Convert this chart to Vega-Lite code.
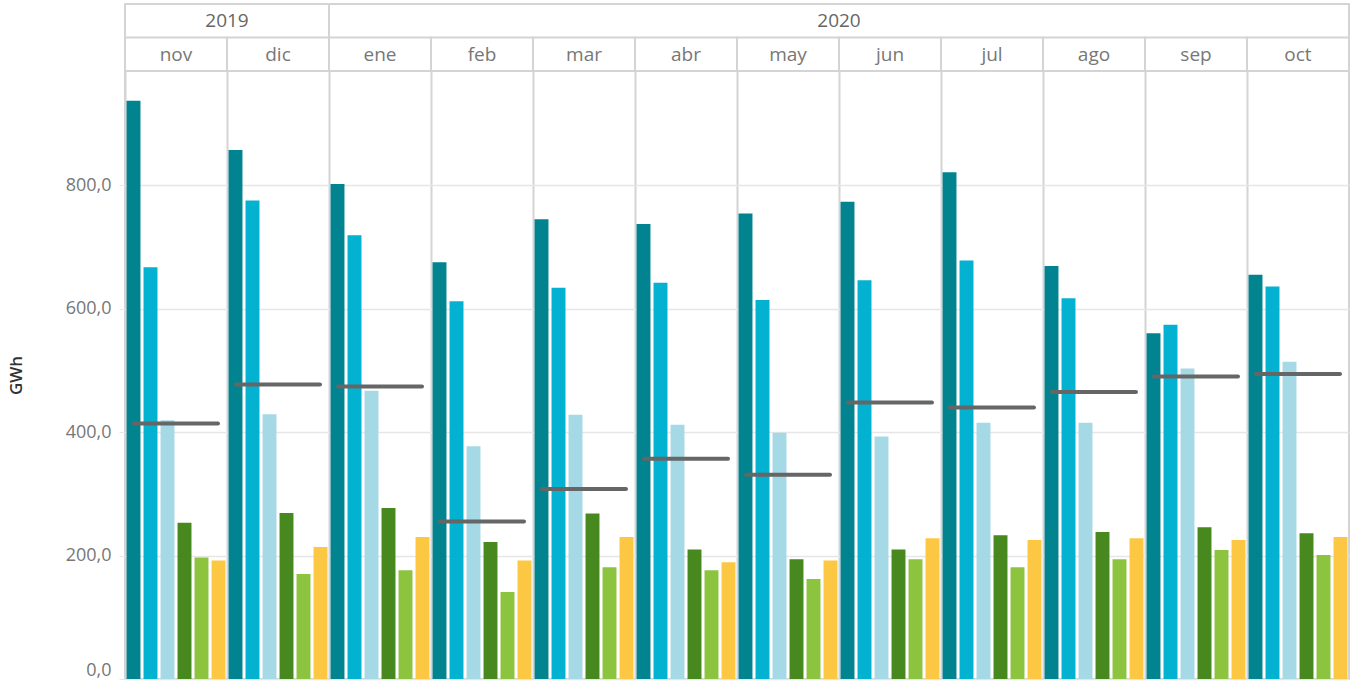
{
  "$schema": "https://vega.github.io/schema/vega-lite/v6.json",
  "padding": {"left": 6, "top": 2, "right": 7, "bottom": 0},
  "background": "white",
  "spacing": 0,
  "bounds": "flush",
  "config": {
    "font": "Open Sans",
    "view": {"stroke": "#d4d4d4", "strokeWidth": 2}
  },
  "datasets": {
    "hdr": [
      {"m": "nov", "level": "month", "label": "nov"},
      {"m": "dic", "level": "month", "label": "dic"},
      {"m": "ene", "level": "month", "label": "ene"},
      {"m": "feb", "level": "month", "label": "feb"},
      {"m": "mar", "level": "month", "label": "mar"},
      {"m": "abr", "level": "month", "label": "abr"},
      {"m": "may", "level": "month", "label": "may"},
      {"m": "jun", "level": "month", "label": "jun"},
      {"m": "jul", "level": "month", "label": "jul"},
      {"m": "ago", "level": "month", "label": "ago"},
      {"m": "sep", "level": "month", "label": "sep"},
      {"m": "oct", "level": "month", "label": "oct"},
      {"m": "dic", "level": "year", "label": "2019"},
      {"m": "jun", "level": "year", "label": "2020"},
      {"m": "ene", "level": "split", "label": ""}
    ],
    "gen": [
      {"year": "2019", "month": "nov", "serie": "Serie 1", "gwh": 937},
      {"year": "2019", "month": "nov", "serie": "Serie 2", "gwh": 667},
      {"year": "2019", "month": "nov", "serie": "Serie 3", "gwh": 419},
      {"year": "2019", "month": "nov", "serie": "Serie 4", "gwh": 253},
      {"year": "2019", "month": "nov", "serie": "Serie 5", "gwh": 197},
      {"year": "2019", "month": "nov", "serie": "Serie 6", "gwh": 192},
      {"year": "2019", "month": "dic", "serie": "Serie 1", "gwh": 857},
      {"year": "2019", "month": "dic", "serie": "Serie 2", "gwh": 775},
      {"year": "2019", "month": "dic", "serie": "Serie 3", "gwh": 429},
      {"year": "2019", "month": "dic", "serie": "Serie 4", "gwh": 269},
      {"year": "2019", "month": "dic", "serie": "Serie 5", "gwh": 170},
      {"year": "2019", "month": "dic", "serie": "Serie 6", "gwh": 214},
      {"year": "2020", "month": "ene", "serie": "Serie 1", "gwh": 802},
      {"year": "2020", "month": "ene", "serie": "Serie 2", "gwh": 719},
      {"year": "2020", "month": "ene", "serie": "Serie 3", "gwh": 467},
      {"year": "2020", "month": "ene", "serie": "Serie 4", "gwh": 277},
      {"year": "2020", "month": "ene", "serie": "Serie 5", "gwh": 176},
      {"year": "2020", "month": "ene", "serie": "Serie 6", "gwh": 230},
      {"year": "2020", "month": "feb", "serie": "Serie 1", "gwh": 675},
      {"year": "2020", "month": "feb", "serie": "Serie 2", "gwh": 612},
      {"year": "2020", "month": "feb", "serie": "Serie 3", "gwh": 377},
      {"year": "2020", "month": "feb", "serie": "Serie 4", "gwh": 222},
      {"year": "2020", "month": "feb", "serie": "Serie 5", "gwh": 141},
      {"year": "2020", "month": "feb", "serie": "Serie 6", "gwh": 192},
      {"year": "2020", "month": "mar", "serie": "Serie 1", "gwh": 745},
      {"year": "2020", "month": "mar", "serie": "Serie 2", "gwh": 634},
      {"year": "2020", "month": "mar", "serie": "Serie 3", "gwh": 428},
      {"year": "2020", "month": "mar", "serie": "Serie 4", "gwh": 268},
      {"year": "2020", "month": "mar", "serie": "Serie 5", "gwh": 181},
      {"year": "2020", "month": "mar", "serie": "Serie 6", "gwh": 230},
      {"year": "2020", "month": "abr", "serie": "Serie 1", "gwh": 737},
      {"year": "2020", "month": "abr", "serie": "Serie 2", "gwh": 642},
      {"year": "2020", "month": "abr", "serie": "Serie 3", "gwh": 412},
      {"year": "2020", "month": "abr", "serie": "Serie 4", "gwh": 210},
      {"year": "2020", "month": "abr", "serie": "Serie 5", "gwh": 176},
      {"year": "2020", "month": "abr", "serie": "Serie 6", "gwh": 189},
      {"year": "2020", "month": "may", "serie": "Serie 1", "gwh": 754},
      {"year": "2020", "month": "may", "serie": "Serie 2", "gwh": 614},
      {"year": "2020", "month": "may", "serie": "Serie 3", "gwh": 399},
      {"year": "2020", "month": "may", "serie": "Serie 4", "gwh": 194},
      {"year": "2020", "month": "may", "serie": "Serie 5", "gwh": 162},
      {"year": "2020", "month": "may", "serie": "Serie 6", "gwh": 192},
      {"year": "2020", "month": "jun", "serie": "Serie 1", "gwh": 773},
      {"year": "2020", "month": "jun", "serie": "Serie 2", "gwh": 646},
      {"year": "2020", "month": "jun", "serie": "Serie 3", "gwh": 393},
      {"year": "2020", "month": "jun", "serie": "Serie 4", "gwh": 210},
      {"year": "2020", "month": "jun", "serie": "Serie 5", "gwh": 194},
      {"year": "2020", "month": "jun", "serie": "Serie 6", "gwh": 228},
      {"year": "2020", "month": "jul", "serie": "Serie 1", "gwh": 821},
      {"year": "2020", "month": "jul", "serie": "Serie 2", "gwh": 678},
      {"year": "2020", "month": "jul", "serie": "Serie 3", "gwh": 415},
      {"year": "2020", "month": "jul", "serie": "Serie 4", "gwh": 233},
      {"year": "2020", "month": "jul", "serie": "Serie 5", "gwh": 181},
      {"year": "2020", "month": "jul", "serie": "Serie 6", "gwh": 225},
      {"year": "2020", "month": "ago", "serie": "Serie 1", "gwh": 669},
      {"year": "2020", "month": "ago", "serie": "Serie 2", "gwh": 617},
      {"year": "2020", "month": "ago", "serie": "Serie 3", "gwh": 415},
      {"year": "2020", "month": "ago", "serie": "Serie 4", "gwh": 238},
      {"year": "2020", "month": "ago", "serie": "Serie 5", "gwh": 194},
      {"year": "2020", "month": "ago", "serie": "Serie 6", "gwh": 228},
      {"year": "2020", "month": "sep", "serie": "Serie 1", "gwh": 560},
      {"year": "2020", "month": "sep", "serie": "Serie 2", "gwh": 574},
      {"year": "2020", "month": "sep", "serie": "Serie 3", "gwh": 503},
      {"year": "2020", "month": "sep", "serie": "Serie 4", "gwh": 246},
      {"year": "2020", "month": "sep", "serie": "Serie 5", "gwh": 209},
      {"year": "2020", "month": "sep", "serie": "Serie 6", "gwh": 225},
      {"year": "2020", "month": "oct", "serie": "Serie 1", "gwh": 655},
      {"year": "2020", "month": "oct", "serie": "Serie 2", "gwh": 636},
      {"year": "2020", "month": "oct", "serie": "Serie 3", "gwh": 514},
      {"year": "2020", "month": "oct", "serie": "Serie 4", "gwh": 236},
      {"year": "2020", "month": "oct", "serie": "Serie 5", "gwh": 201},
      {"year": "2020", "month": "oct", "serie": "Serie 6", "gwh": 230}
    ],
    "ref": [
      {"month": "nov", "ref": 414},
      {"month": "dic", "ref": 477},
      {"month": "ene", "ref": 474},
      {"month": "feb", "ref": 255},
      {"month": "mar", "ref": 308},
      {"month": "abr", "ref": 357},
      {"month": "may", "ref": 331},
      {"month": "jun", "ref": 448},
      {"month": "jul", "ref": 440},
      {"month": "ago", "ref": 465},
      {"month": "sep", "ref": 490},
      {"month": "oct", "ref": 494}
    ]
  },
  "vconcat": [
    {
      "width": 1224,
      "height": 67,
      "data": {"name": "hdr"},
      "layer": [
        {
          "transform": [{"filter": "datum.level == 'month'"}],
          "mark": {"type": "rect", "fill": "white", "stroke": "#d4d4d4", "strokeWidth": 2},
          "encoding": {
            "x": {"field": "m", "type": "nominal", "sort": ["nov","dic","ene","feb","mar","abr","may","jun","jul","ago","sep","oct"], "scale": {"paddingInner": 0, "paddingOuter": 0}, "axis": null},
            "y": {"field": "level", "type": "nominal", "scale": {"domain": ["year", "month"], "paddingInner": 0, "paddingOuter": 0}, "axis": null}
          }
        },
        {
          "transform": [{"filter": "datum.level == 'month'"}],
          "mark": {"type": "text", "fontSize": 19, "color": "#777777", "baseline": "middle", "align": "center", "dy": 1},
          "encoding": {
            "x": {"field": "m", "type": "nominal", "sort": ["nov","dic","ene","feb","mar","abr","may","jun","jul","ago","sep","oct"], "axis": null},
            "y": {"field": "level", "type": "nominal", "axis": null},
            "text": {"field": "label"}
          }
        },
        {
          "transform": [{"filter": "datum.level == 'year'"}],
          "mark": {"type": "text", "fontSize": 19, "color": "#666666", "baseline": "middle", "align": "center"},
          "encoding": {
            "x": {"field": "m", "type": "nominal", "bandPosition": 0, "sort": ["nov","dic","ene","feb","mar","abr","may","jun","jul","ago","sep","oct"], "axis": null},
            "y": {"field": "level", "type": "nominal", "axis": null},
            "text": {"field": "label"}
          }
        },
        {
          "transform": [{"filter": "datum.level == 'split'"}],
          "mark": {"type": "rule", "color": "#d4d4d4", "strokeWidth": 2},
          "encoding": {
            "x": {"field": "m", "type": "nominal", "bandPosition": 0, "sort": ["nov","dic","ene","feb","mar","abr","may","jun","jul","ago","sep","oct"], "axis": null}
          }
        }
      ]
    },
    {
      "width": 1224,
      "height": 608,
      "layer": [
        {
          "data": {"name": "gen"},
          "mark": {"type": "bar"},
          "encoding": {
            "x": {
              "field": "month", "type": "nominal",
              "sort": ["nov","dic","ene","feb","mar","abr","may","jun","jul","ago","sep","oct"],
              "scale": {"paddingInner": 0, "paddingOuter": 0},
              "axis": {"title": null, "labels": false, "ticks": false, "domain": false, "grid": true, "bandPosition": 0, "gridColor": "#d4d4d4", "gridWidth": 2}
            },
            "xOffset": {
              "field": "serie", "type": "nominal",
              "sort": ["Serie 1","Serie 2","Serie 3","Serie 4","Serie 5","Serie 6"],
              "scale": {"paddingInner": 0.18, "paddingOuter": 0.09}
            },
            "y": {
              "field": "gwh", "type": "quantitative",
              "scale": {"domain": [0, 985], "nice": false},
              "axis": {
                "title": "GWh", "titleFontSize": 17, "titleColor": "#333333", "titleFontWeight": 600, "titlePadding": 40,
                "values": [0, 200, 400, 600, 800],
                "labelExpr": "replace(format(datum.value, '.1f'), '.', ',')",
                "labelFontSize": 18, "labelColor": "#777777", "labelPadding": 8, "labelFlush": true,
                "tickColor": "#e6e6e6", "tickSize": 6,
                "domain": false,
                "gridColor": "#e6e6e6", "gridWidth": 1.5
              }
            },
            "color": {
              "field": "serie", "type": "nominal",
              "scale": {"domain": ["Serie 1","Serie 2","Serie 3","Serie 4","Serie 5","Serie 6"], "range": ["#028490","#03B1D1","#A6D9E6","#47891E","#8CC43F","#FCC843"]},
              "legend": null
            }
          }
        },
        {
          "data": {"name": "ref"},
          "mark": {"type": "tick", "color": "#666666", "thickness": 4, "size": 88, "cornerRadius": 2, "opacity": 1},
          "encoding": {
            "x": {"field": "month", "type": "nominal", "sort": ["nov","dic","ene","feb","mar","abr","may","jun","jul","ago","sep","oct"]},
            "y": {"field": "ref", "type": "quantitative"}
          }
        }
      ]
    }
  ]
}
